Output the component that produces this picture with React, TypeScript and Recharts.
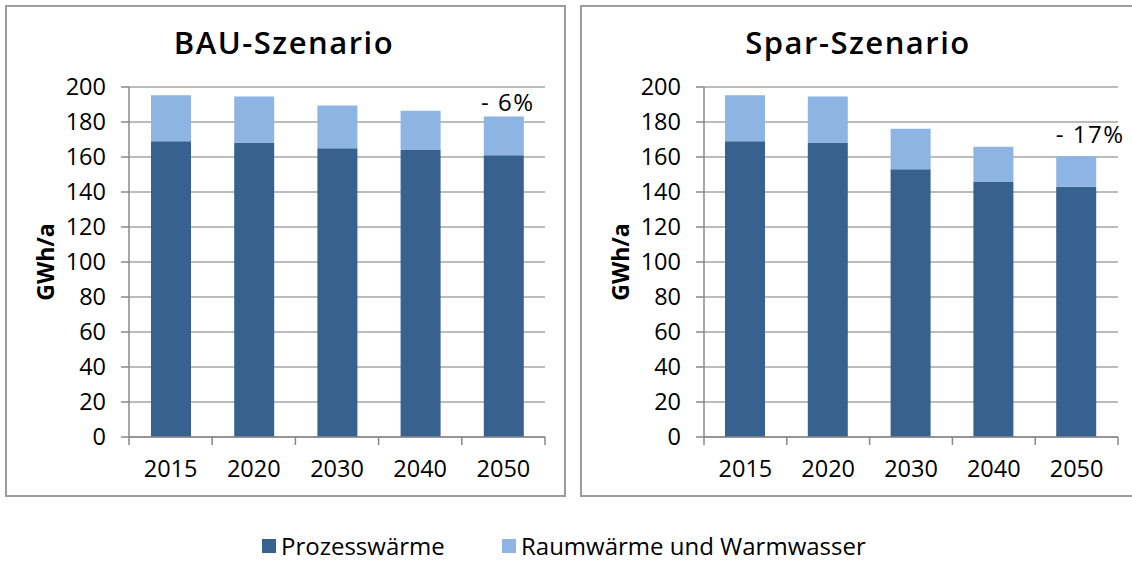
import React from 'react';
import { BarChart, Bar, XAxis, YAxis, CartesianGrid, LabelList } from 'recharts';

const years = ['2015', '2020', '2030', '2040', '2050'];
const bauProzess = [169, 168, 165, 164, 161];
const bauRaum = [26.3, 26.6, 24.5, 22.4, 22.1];
const sparProzess = [169, 168, 153, 146, 143];
const sparRaum = [26.3, 26.6, 23.1, 19.9, 17.4];
const yTicks = [0, 20, 40, 60, 80, 100, 120, 140, 160, 180, 200];
const seriesNames = ['Prozesswärme', 'Raumwärme und Warmwasser'];
const titles = ['BAU-Szenario', 'Spar-Szenario'];
const annotations = ['- 6%', '- 17%'];
const yLabel = 'GWh/a';

const DARK = '#37618F';
const LIGHT = '#8EB4E3';
const GRID = '#A6A6A6';
const FONT = '"Open Sans", "DejaVu Sans", sans-serif';
const TICK_FS = 23.5;

const buildData = (p: number[], r: number[]) =>
  years.map((y, i) => ({ year: y, prozess: p[i], raum: r[i] }));

type PanelProps = {
  left: number;
  width: number;
  marginRight: number;
  title: string;
  titleCenter: number;
  data: { year: string; prozess: number; raum: number }[];
  annotation: string;
  annDx: number;
  annDy: number;
  boxLeft: number;
  boxWidth: number;
};

const YAXIS_W = 129;

function Panel(props: PanelProps) {
  const { left, width, marginRight, title, titleCenter, data, annotation, annDx, annDy, boxLeft, boxWidth } = props;
  const plotW = width - YAXIS_W - marginRight;
  const bw = plotW / years.length;

  const XTick = (tp: any) => {
    const { x, y, payload, index } = tp;
    return (
      <g>
        <line x1={x - bw / 2} x2={x - bw / 2} y1={y} y2={y + 8} stroke="#888" strokeWidth={1.5} />
        {index === years.length - 1 && (
          <line x1={x + bw / 2} x2={x + bw / 2} y1={y} y2={y + 8} stroke="#888" strokeWidth={1.5} />
        )}
        <text x={x} y={y + 40} textAnchor="middle" fontSize={TICK_FS} fill="#000" fontFamily={FONT}>
          {payload.value}
        </text>
      </g>
    );
  };

  const YLab = (lp: any) => {
    const vb = lp.viewBox || {};
    const cy = (vb.y ?? 87) + (vb.height ?? 350) / 2;
    const cx = 45;
    return (
      <text
        x={cx}
        y={cy}
        transform={`rotate(-90 ${cx} ${cy})`}
        textAnchor="middle"
        dominantBaseline="central"
        fontSize={23}
        fontWeight={700}
        fill="#000"
        fontFamily={FONT}
      >
        {yLabel}
      </text>
    );
  };

  const Ann = (lp: any) => {
    const { x, y, width: w, index } = lp;
    if (index !== years.length - 1) return null;
    return (
      <text
        x={x + w / 2 + annDx}
        y={y - annDy}
        textAnchor="middle"
        fontSize={24}
        fill="#000"
        fontFamily={FONT}
        letterSpacing={1.5}
      >
        {annotation}
      </text>
    );
  };

  return (
    <>
      <div
        style={{
          position: 'absolute',
          left: boxLeft,
          top: 5,
          width: boxWidth,
          height: 492,
          boxSizing: 'border-box',
          border: '2px solid #9d9d9d',
        }}
      />
      <div
        style={{
          position: 'absolute',
          left: titleCenter - 200,
          width: 400,
          top: 21,
          textAlign: 'center',
          fontFamily: FONT,
          fontSize: 31,
          fontWeight: 600,
          letterSpacing: 1.5,
          lineHeight: '42px',
          color: '#000',
        }}
      >
        {title}
      </div>
      <div style={{ position: 'absolute', left, top: 0 }}>
        <BarChart
          width={width}
          height={500}
          data={data}
          margin={{ top: 87, right: marginRight, bottom: 0, left: 0 }}
          barSize={40}
        >
          <CartesianGrid vertical={false} stroke={GRID} strokeWidth={1.5} />
          <XAxis
            dataKey="year"
            height={63}
            axisLine={{ stroke: '#888', strokeWidth: 1.5 }}
            tickLine={false}
            tickSize={0}
            tickMargin={0}
            tick={XTick}
            interval={0}
          />
          <YAxis
            width={YAXIS_W}
            domain={[0, 200]}
            ticks={yTicks}
            interval={0}
            axisLine={{ stroke: '#888', strokeWidth: 1.5 }}
            tickLine={{ stroke: '#888', strokeWidth: 1.5 }}
            tickSize={8}
            tickMargin={15}
            tick={{ fontSize: TICK_FS, fill: '#000', fontFamily: FONT }}
            label={<YLab />}
          />
          <Bar dataKey="prozess" stackId="a" fill={DARK} name={seriesNames[0]} isAnimationActive={false} />
          <Bar dataKey="raum" stackId="a" fill={LIGHT} name={seriesNames[1]} isAnimationActive={false}>
            <LabelList dataKey="raum" content={<Ann />} />
          </Bar>
        </BarChart>
      </div>
    </>
  );
}

export default function App() {
  return (
    <div style={{ position: 'absolute', left: 0, top: 0, width: 1132, height: 561, background: '#fff', overflow: 'hidden' }}>
      <Panel
        left={0}
        width={566}
        marginRight={21}
        title={titles[0]}
        titleCenter={284}
        data={buildData(bauProzess, bauRaum)}
        annotation={annotations[0]}
        annDx={4}
        annDy={6}
        boxLeft={5}
        boxWidth={561}
      />
      <Panel
        left={575}
        width={557}
        marginRight={14}
        title={titles[1]}
        titleCenter={858}
        data={buildData(sparProzess, sparRaum)}
        annotation={annotations[1]}
        annDx={14}
        annDy={13}
        boxLeft={580}
        boxWidth={560}
      />
      <div
        style={{
          position: 'absolute',
          top: 531,
          left: 0,
          width: 1132,
          height: 30,
          fontFamily: FONT,
          fontSize: 24,
          lineHeight: '30px',
          color: '#000',
        }}
      >
        <div style={{ position: 'absolute', left: 262, top: 0, display: 'flex', alignItems: 'center', whiteSpace: 'nowrap' }}>
          <span style={{ display: 'inline-block', width: 14, height: 14, background: DARK, marginRight: 5 }} />
          {seriesNames[0]}
        </div>
        <div style={{ position: 'absolute', left: 502, top: 0, display: 'flex', alignItems: 'center', whiteSpace: 'nowrap' }}>
          <span style={{ display: 'inline-block', width: 14, height: 14, background: LIGHT, marginRight: 5 }} />
          {seriesNames[1]}
        </div>
      </div>
    </div>
  );
}
